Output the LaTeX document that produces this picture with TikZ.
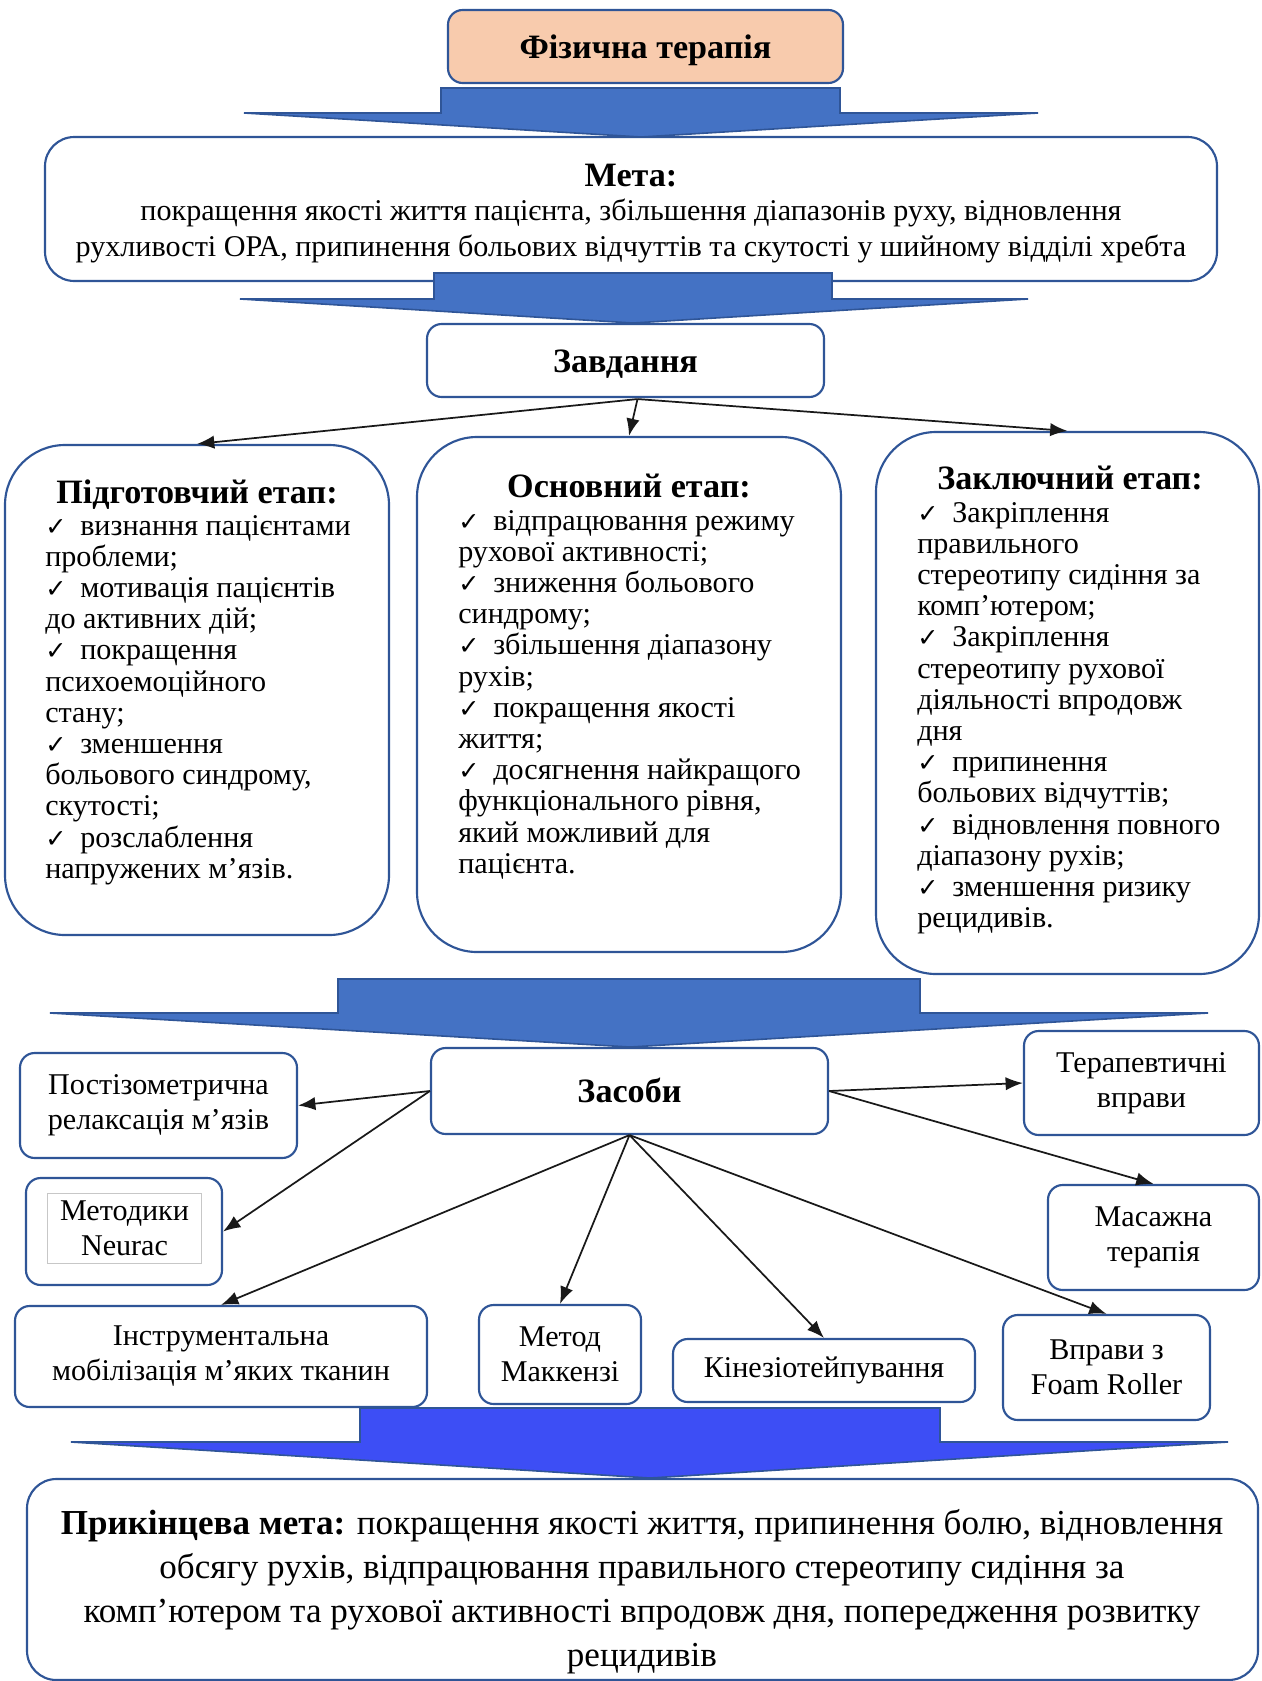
\documentclass[tikz,border=0pt]{standalone}
\usepackage{fontspec}
\setmainfont{Liberation Serif}
\newfontfamily\djv{DejaVu Sans}
\usetikzlibrary{arrows.meta,calc}
\definecolor{bord}{HTML}{2F5597}
\definecolor{afill}{HTML}{4472C4}
\definecolor{afilltwo}{HTML}{3D4EF5}
\definecolor{peach}{HTML}{F8CBAD}
\newcommand{\ck}{\makebox[26.25pt][l]{\djv\fontsize{19pt}{19pt}\selectfont ✓}}
\newcommand{\bodyf}{\fontsize{22.6pt}{23.4pt}\selectfont}
\newcommand{\smallf}{\fontsize{22.6pt}{26.25pt}\selectfont}
\newcommand{\titf}{\bfseries\fontsize{25.6pt}{30pt}\selectfont}
% box node from pixel corners: style, name, x1, y1, x2, y2
\newcommand{\bx}[6]{\node[#1, minimum width={(#5-#3)*0.75pt}, minimum height={(#6-#4)*0.75pt}] (#2) at ({(#3+#5)/2},{(#4+#6)/2})}
\begin{document}
\begin{tikzpicture}[x=0.75pt,y=-0.75pt,
  box/.style={draw=bord, line width=1.6pt, rounded corners=11pt, fill=white, inner sep=0pt},
  bigbox/.style={box, rounded corners=45pt},
  midbox/.style={box, rounded corners=22pt},
  smallbox/.style={box, align=center, font=\smallf},
  titlebox/.style={box, font=\titf, text height=17.4pt, text depth=0pt},
  conn/.style={-{Latex[length=13pt,width=10pt]}, line width=1.3pt, black!90},
  blockarrow/.style={fill=afill, draw=bord, line width=1.2pt, line join=miter},
  ttl/.style={font=\titf, anchor=base, inner sep=0pt},
  lst/.style={anchor=base west, inner sep=0pt},
  ctext/.style={anchor=base, inner sep=0pt}]
\useasboundingbox (0,0) rectangle (1261,1681);

% top box
\bx{titlebox, fill=peach}{fiz}{448}{10}{843}{83} {Фізична терапія};

% goal box
\bx{midbox}{meta}{45}{137}{1217}{281} {};
\node[ttl] (metat) at (631,186) {Мета:};
\node[ctext] (metab) at (631,220) {\parbox[t]{900pt}{\centering\fontsize{22.6pt}{27pt}\selectfont
покращення якості життя пацієнта, збільшення діапазонів руху, відновлення\\
рухливості ОРА, припинення больових відчуттів та скутості у шийному відділі хребта}};

% tasks
\bx{titlebox}{zav}{427}{324}{824}{397} {Завдання};

% stage boxes
\bx{bigbox}{L}{5}{445}{389}{935} {};
\bx{bigbox}{M}{417}{437}{841}{952} {};
\bx{bigbox}{R}{876}{432}{1259}{974} {};

\node[ttl] (Lt) at (197,503) {Підготовчий етап:};
\node[lst] (Lb) at (45,535) {\parbox[t]{330pt}{\raggedright\bodyf
\ck визнання пацієнтами\\
проблеми;\\
\ck мотивація пацієнтів\\
до активних дій;\\
\ck покращення\\
психоемоційного\\
стану;\\
\ck зменшення\\
больового синдрому,\\
скутості;\\
\ck розслаблення\\
напружених м’язів.}};

\node[ttl] (Mt) at (629,497) {Основний етап:};
\node[lst] (Mb) at (458,530) {\parbox[t]{330pt}{\raggedright\bodyf
\ck відпрацювання режиму\\
рухової активності;\\
\ck зниження больового\\
синдрому;\\
\ck збільшення діапазону\\
рухів;\\
\ck покращення якості\\
життя;\\
\ck досягнення найкращого\\
функціонального рівня,\\
який можливий для\\
пацієнта.}};

\node[ttl] (Rt) at (1070,489) {Заключний етап:};
\node[lst] (Rb) at (917,522) {\parbox[t]{330pt}{\raggedright\bodyf
\ck Закріплення\\
правильного\\
стереотипу сидіння за\\
комп’ютером;\\
\ck Закріплення\\
стереотипу рухової\\
діяльності впродовж\\
дня\\
\ck припинення\\
больових відчуттів;\\
\ck відновлення повного\\
діапазону рухів;\\
\ck зменшення ризику\\
рецидивів.}};

% means
\bx{titlebox}{zas}{431}{1048}{828}{1134} {Засоби};
\bx{smallbox}{post}{20}{1053}{297}{1158} {Постізометрична\\релаксація м’язів};
\bx{box}{neur}{26}{1178}{222}{1285} {};
\node[draw=black!22, line width=0.6pt, inner sep=0pt, minimum width=116pt, minimum height=52pt,
      align=center, font=\smallf] (neurt) at (124.5,1228.5) {Методики\\Neurac};
\bx{smallbox}{instr}{15}{1306}{427}{1407} {Інструментальна\\мобілізація м’яких тканин};
\bx{smallbox}{mck}{479}{1305}{641}{1404} {Метод\\Маккензі};
\bx{smallbox}{kin}{673}{1339}{975}{1402} {Кінезіотейпування};
\bx{smallbox}{foam}{1003}{1315}{1210}{1420} {Вправи з\\Foam Roller};
\bx{smallbox}{mas}{1048}{1185}{1259}{1290} {Масажна\\терапія};
\bx{smallbox}{ter}{1024}{1031}{1259}{1135} {Терапевтичні\\вправи};

% final box
\bx{midbox}{fin}{27}{1479}{1258}{1680} {};
\node[ctext] (fint) at (642,1534) {\parbox[t]{900pt}{\centering\fontsize{26.3pt}{33pt}\selectfont
\textbf{Прикінцева мета:} покращення якості життя, припинення болю, відновлення\\
обсягу рухів, відпрацювання правильного стереотипу сидіння за\\
комп’ютером та рухової активності впродовж дня, попередження розвитку\\
рецидивів}};

% block arrows
\draw[blockarrow] (441,88) -- (840,88) -- (840,113) -- (1038,113) -- (641,137) -- (244,113) -- (441,113) -- cycle;
\draw[blockarrow] (434,273) -- (832,273) -- (832,299) -- (1028,299) -- (633,323) -- (240,299) -- (434,299) -- cycle;
\draw[blockarrow] (338,979) -- (920,979) -- (920,1013) -- (1208,1013) -- (630,1047) -- (50,1013) -- (338,1013) -- cycle;
\draw[blockarrow, fill=afilltwo] (360,1408) -- (940,1408) -- (940,1442) -- (1228,1442) -- (650,1478) -- (71,1442) -- (360,1442) -- cycle;

% connectors
\coordinate (zs) at ($(zav.south)+(12,1)$);
\draw[conn] (zs) -- (L.north);
\draw[conn] (zs) -- (M.north);
\draw[conn] (zs) -- (R.north);

\draw[conn] (zas.west) -- (post.east);
\draw[conn] (zas.west) -- (neur.east);
\draw[conn] (zas.south) -- (instr.north);
\draw[conn] (zas.south) -- (mck.north);
\draw[conn] (zas.south) -- (kin.north);
\draw[conn] (zas.south) -- (foam.north);
\draw[conn] (zas.east) -- (ter.west);
\draw[conn] (zas.east) -- (mas.north);
\end{tikzpicture}
\end{document}
